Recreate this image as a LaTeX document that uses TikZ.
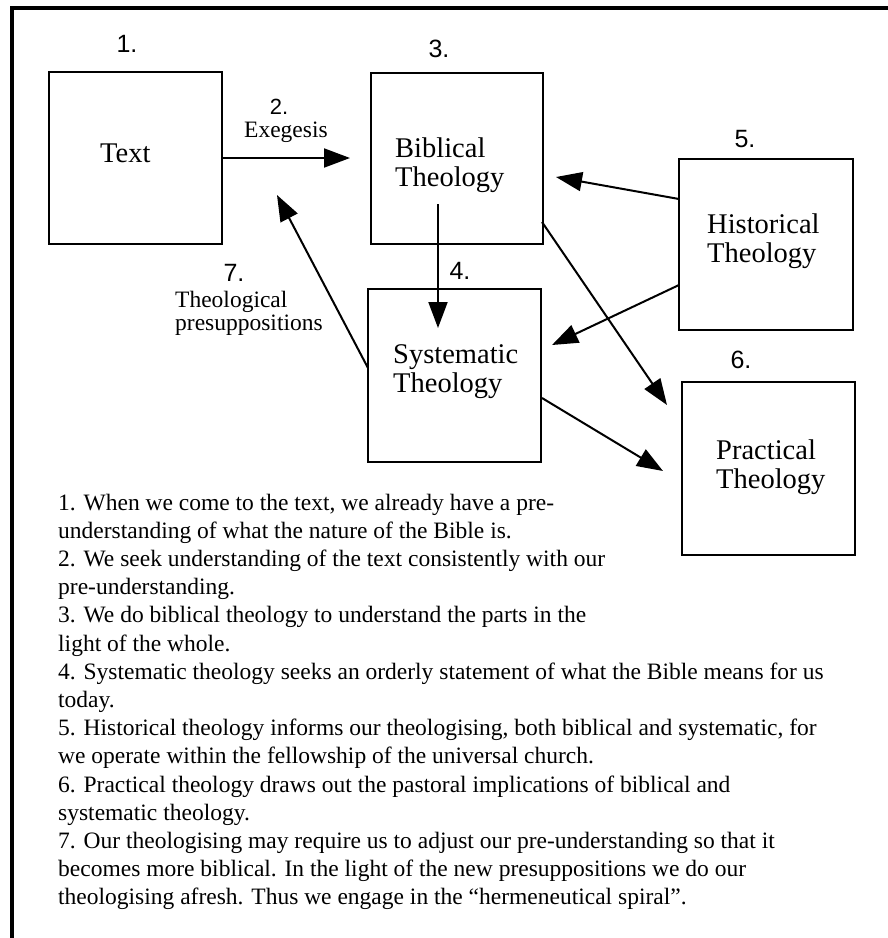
\documentclass[tikz,border=0pt]{standalone}
\usepackage{fontspec}
\setmainfont{Liberation Serif}
\newfontfamily\arialf{Liberation Sans}
\usetikzlibrary{arrows.meta}
\begin{document}
\begin{tikzpicture}[x=1pt,y=-1pt,
  box/.style={draw, line width=2.6pt, inner sep=0pt},
  numlab/.style={font=\arialf\fontsize{25}{25}\selectfont, inner sep=0pt, anchor=base},
  boxtext/.style={font=\fontsize{28.5}{29.2}\selectfont, inner sep=0pt, anchor=base west},
  smalltext/.style={font=\fontsize{23.5}{23}\selectfont, inner sep=0pt, anchor=base west},
  bodytext/.style={font=\fontsize{23.5}{28.2}\selectfont, inner sep=0pt, anchor=base west},
  arr/.style={line width=2pt, -{Triangle[length=26pt,width=19pt]}},
]
\useasboundingbox (0,0) rectangle (888,938);
\fill[white] (0,0) rectangle (888,938);
\draw[line width=3.3pt] (12,938) -- (12,8) -- (888,8);

% boxes
\node[box, minimum width=173pt, minimum height=172pt] (tx) at (135.5,158) {};
\node[box, minimum width=172pt, minimum height=171pt] (bib) at (457,158.5) {};
\node[box, minimum width=173pt, minimum height=173pt] (sys) at (454.5,375.5) {};
\node[box, minimum width=174pt, minimum height=171pt] (his) at (766,244.5) {};
\node[box, minimum width=173pt, minimum height=173pt] (pra) at (768.5,468.5) {};

% box texts
\node[boxtext] (txT) at (100,162) {Text};
\node[boxtext] (bibT) at (395,157) {\parbox[t]{140pt}{Biblical\\Theology}};
\node[boxtext] (hisT) at (707,233) {\parbox[t]{140pt}{Historical\\Theology}};
\node[boxtext] (sysT) at (393,363) {\parbox[t]{140pt}{Systematic\\Theology}};
\node[boxtext] (praT) at (716,459) {\parbox[t]{140pt}{Practical\\Theology}};

% number labels
\node[numlab] (n1) at (127,52) {1.};
\node[numlab, font=\arialf\fontsize{22}{22}\selectfont] (n2) at (279,114) {2.};
\node[numlab] (n3) at (439,57) {3.};
\node[numlab] (n4) at (460,279) {4.};
\node[numlab] (n5) at (745,147) {5.};
\node[numlab] (n6) at (741,368) {6.};
\node[numlab] (n7) at (234,281) {7.};

% small labels
\node[smalltext] (exe) at (244,137) {Exegesis};
\node[smalltext] (pres) at (175,307) {\parbox[t]{200pt}{Theological\\presuppositions}};

% connector end points
\coordinate (a1e) at (350,158);
\coordinate (a2s) at (438,204);
\coordinate (a2e) at (438,328);
\coordinate (a3s) at (679,199);
\coordinate (a3e) at (556,177);
\coordinate (a4s) at (679,285);
\coordinate (a4e) at (552,345);
\coordinate (a5s) at (542,222);
\coordinate (a5e) at (667,405);
\coordinate (a6s) at (542,398);
\coordinate (a6e) at (663,471);
\coordinate (a7s) at (368,368);
\coordinate (a7e) at (277,195);

% connectors
\draw[arr] (tx.east) -- (a1e);
\draw[arr] (a2s) -- (a2e);
\draw[arr] (a3s) -- (a3e);
\draw[arr] (a4s) -- (a4e);
\draw[arr] (a5s) -- (a5e);
\draw[arr] (a6s) -- (a6e);
\draw[arr] (a7s) -- (a7e);

% explanatory text
\node[bodytext] (notes) at (58,510) {\parbox[t]{820pt}{\raggedright
1. When we come to the text, we already have a pre-\\
understanding of what the nature of the Bible is.\\
2. We seek understanding of the text consistently with our\\
pre-understanding.\\
3. We do biblical theology to understand the parts in the\\
light of the whole.\\
4. Systematic theology seeks an orderly statement of what the Bible means for us\\
today.\\
5. Historical theology informs our theologising, both biblical and systematic, for\\
we operate within the fellowship of the universal church.\\
6. Practical theology draws out the pastoral implications of biblical and\\
systematic theology.\\
7. Our theologising may require us to adjust our pre-understanding so that it\\
becomes more biblical. In the light of the new presuppositions we do our\\
theologising afresh. Thus we engage in the “hermeneutical spiral”.}};
\end{tikzpicture}
\end{document}
